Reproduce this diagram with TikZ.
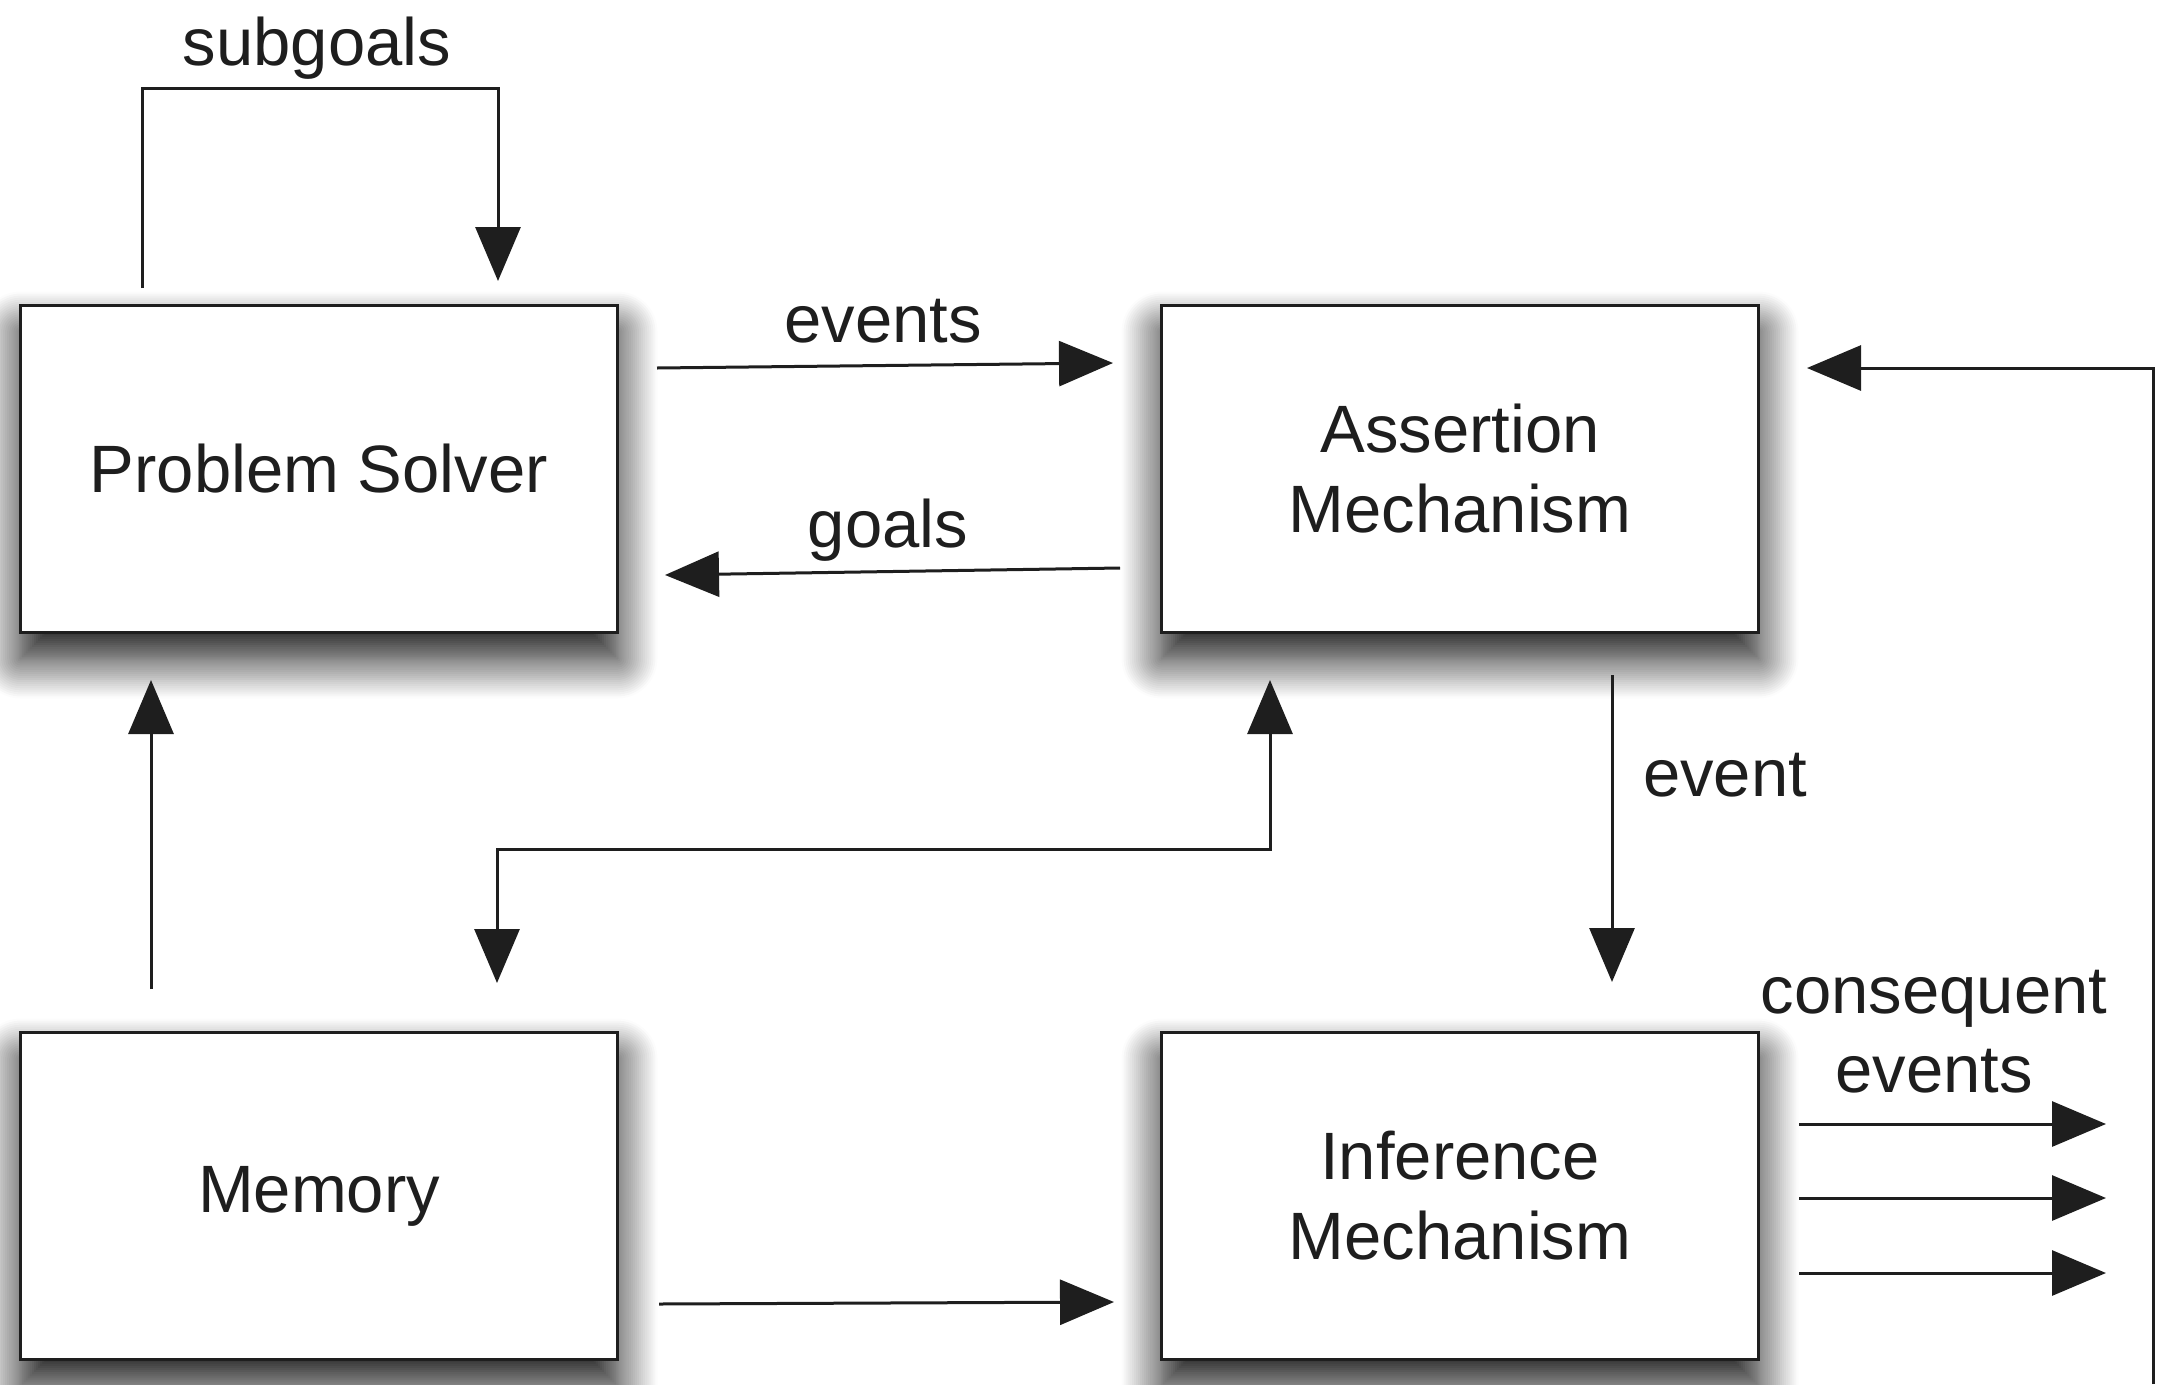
\documentclass[tikz,border=0pt]{standalone}
\usepackage{fontspec}
\setmainfont{Liberation Sans}
\usetikzlibrary{arrows.meta,shadows.blur}
\definecolor{ink}{HTML}{1E1E1E}
\tikzset{
  blockbox/.style={draw=ink, line width=3.5pt, fill=white, minimum width=597pt, minimum height=327pt,
    inner sep=0pt, align=center, text=ink, font=\fontsize{67}{80}\selectfont,
    blur shadow={shadow xshift=0pt, shadow yshift=-26pt, shadow blur radius=40pt, shadow blur steps=20, shadow opacity=95}},
  conn/.style={draw=ink, line width=3pt, -{Triangle[length=54pt,width=45pt]}},
  lbl/.style={text=ink, font=\fontsize{67}{79}\selectfont, anchor=base, inner sep=0pt, align=center}
}
\begin{document}
\begin{tikzpicture}[x=1pt,y=-1pt]
\useasboundingbox (0,0) rectangle (2160,1384);
% boxes
\node[blockbox] (ps)  at (319,469)  {Problem Solver};
\node[blockbox] (am)  at (1460,469) {Assertion\\Mechanism};
\node[blockbox] (mem) at (319,1196) {Memory};
\node[blockbox] (inf) at (1460,1196) {Inference\\Mechanism};
% endpoints
\coordinate (sgA) at (142,288);
\coordinate (sgB) at (498,281);
\coordinate (evA) at (657,368);
\coordinate (evB) at (1113,363);
\coordinate (goA) at (1120,568);
\coordinate (goB) at (665,575);
\coordinate (fbA) at (2153,1384);
\coordinate (fbB) at (1807,368);
\coordinate (edA) at (1612,675);
\coordinate (edB) at (1612,982);
\coordinate (muA) at (151,989);
\coordinate (muB) at (151,680);
\coordinate (bdA) at (1270,680);
\coordinate (bdB) at (497,983);
\coordinate (miA) at (659,1304);
\coordinate (miB) at (1114,1302);
\coordinate (c1A) at (1799,1124);
\coordinate (c1B) at (2106,1124);
\coordinate (c2A) at (1799,1198);
\coordinate (c2B) at (2106,1198);
\coordinate (c3A) at (1799,1273);
\coordinate (c3B) at (2106,1273);
% connectors
\draw[conn] (sgA) -- (142,88) -| (sgB);
\draw[conn] (evA) -- (evB);
\draw[conn] (goA) -- (goB);
\draw[conn] (fbA) |- (fbB);
\draw[conn] (edA) -- (edB);
\draw[conn] (muA) -- (muB);
\draw[conn, {Triangle[length=54pt,width=45pt]}-{Triangle[length=54pt,width=45pt]}] (bdA) |- (497,849) -- (bdB);
\draw[conn] (miA) -- (miB);
\draw[conn] (c1A) -- (c1B);
\draw[conn] (c2A) -- (c2B);
\draw[conn] (c3A) -- (c3B);
% labels
\node[lbl] (lsub) at (317,65) {subgoals};
\node[lbl] (lev) at (883,342) {events};
\node[lbl] (lgo) at (888,547) {goals};
\node[lbl] (led) at (1725,796) {event};
\node[lbl] (lc1) at (1934,1013) {consequent};
\node[lbl] (lc2) at (1934,1092) {events};
\end{tikzpicture}
\end{document}
